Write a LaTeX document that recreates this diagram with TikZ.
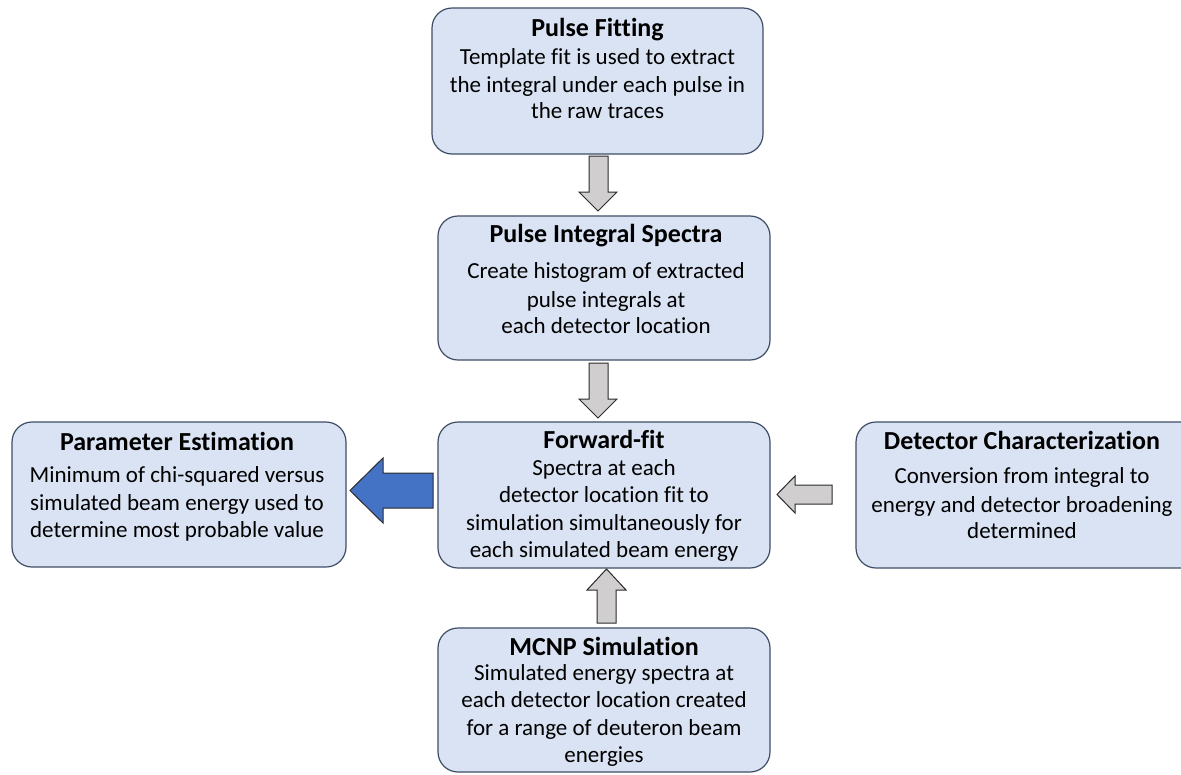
\documentclass[tikz,border=0pt]{standalone}
\usepackage{fontspec}
\setmainfont{Carlito}[Ligatures={NoCommon}]
\begin{document}
\begin{tikzpicture}[x=1pt,y=-1pt,
  box/.style={draw=boxline, fill=boxfill, line width=1.2pt, rounded corners=20pt, inner sep=0pt},
  ttl/.style={font=\fontsize{26}{30}\selectfont\bfseries, anchor=base, inner sep=0pt},
  body/.style={font=\fontsize{23}{27}\selectfont, anchor=base, inner sep=0pt},
  garrow/.style={draw=arrline, fill=arrgray, line width=1pt, line join=miter},
  barrow/.style={draw=arrline, fill=arrblue, line width=1pt, line join=miter}]
\definecolor{boxfill}{HTML}{DAE3F3}
\definecolor{boxline}{HTML}{3E4D66}
\definecolor{arrgray}{HTML}{D0CECE}
\definecolor{arrline}{HTML}{2B2B2B}
\definecolor{arrblue}{HTML}{4472C4}
\useasboundingbox (0,0) rectangle (1181,774);
% boxes
\draw[box] (432,8) rectangle (763,154);
\draw[box] (438,216) rectangle (770,360);
\draw[box] (438,422) rectangle (770,568);
\draw[box] (438,628) rectangle (770,772);
\draw[box] (12,422) rectangle (346,567);
\draw[box] (856,422) rectangle (1200,568);
% Pulse Fitting
\node[ttl] (pft) at (597.5,36) {Pulse Fitting};
\node[body] (pf1) at (597.5,64) {Template fit is used to extract};
\node[body] (pf2) at (597.5,92) {the integral under each pulse in};
\node[body] (pf3) at (597.5,118) {the raw traces};
% Pulse Integral Spectra
\node[ttl] (pit) at (606,242) {Pulse Integral Spectra};
\node[body] (pi1) at (606,278) {Create histogram of extracted};
\node[body] (pi2) at (606,307) {pulse integrals at};
\node[body] (pi3) at (606,333) {each detector location};
% Forward-fit
\node[ttl] (fft) at (604,448) {Forward-fit};
\node[body] (ff1) at (604,475) {Spectra at each};
\node[body] (ff2) at (604,502) {detector location fit to};
\node[body] (ff3) at (604,530) {simulation simultaneously for};
\node[body] (ff4) at (604,557) {each simulated beam energy};
% MCNP
\node[ttl] (mct) at (604,655) {MCNP Simulation};
\node[body] (mc1) at (604,680) {Simulated energy spectra at};
\node[body] (mc2) at (604,707) {each detector location created};
\node[body] (mc3) at (604,735) {for a range of deuteron beam};
\node[body] (mc4) at (604,762) {energies};
% Parameter Estimation
\node[ttl] (pet) at (177,450) {Parameter Estimation};
\node[body] (pe1) at (177,482) {Minimum of chi-squared versus};
\node[body] (pe2) at (177,510) {simulated beam energy used to};
\node[body] (pe3) at (177,537) {determine most probable value};
% Detector Characterization
\node[ttl] (dct) at (1022,449) {Detector Characterization};
\node[body] (dc1) at (1022,483) {Conversion from integral to};
\node[body] (dc2) at (1022,512) {energy and detector broadening};
\node[body] (dc3) at (1022,538) {determined};
% arrows
\draw[garrow] (589,156) -- (608,156) -- (608,192) -- (617,192) -- (598,211) -- (579,192) -- (589,192) -- cycle;
\draw[garrow] (589,363) -- (608,363) -- (608,399) -- (617,399) -- (598,418) -- (579,399) -- (589,399) -- cycle;
\draw[garrow] (597,623) -- (616,623) -- (616,590) -- (626,590) -- (606.5,569) -- (587,590) -- (597,590) -- cycle;
\draw[garrow] (832,485) -- (832,504) -- (795,504) -- (795,513) -- (777,494.5) -- (795,476) -- (795,485) -- cycle;
\draw[barrow] (433,473) -- (433,508) -- (383,508) -- (383,523) -- (350,490.5) -- (383,458) -- (383,473) -- cycle;
\end{tikzpicture}
\end{document}
